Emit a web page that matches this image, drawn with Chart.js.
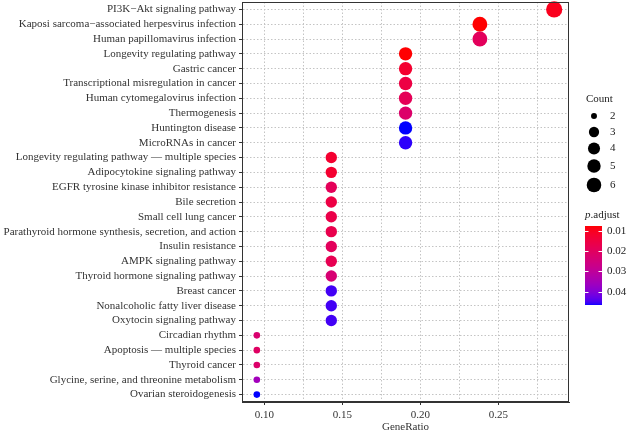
<!DOCTYPE html>
<html>
<head>
<meta charset="utf-8">
<script src="https://cdn.jsdelivr.net/npm/chart.js@4/dist/chart.umd.min.js"></script>
<style>
  html, body { margin: 0; padding: 0; background: #fff; }
  #wrap { width: 627px; height: 431px; }
</style>
</head>
<body>
<div id="wrap"><canvas id="c" width="627" height="431"></canvas></div>
<script>
// ---------------- data ----------------
const pathways = [
  "PI3K\u2212Akt signaling pathway",
  "Kaposi sarcoma\u2212associated herpesvirus infection",
  "Human papillomavirus infection",
  "Longevity regulating pathway",
  "Gastric cancer",
  "Transcriptional misregulation in cancer",
  "Human cytomegalovirus infection",
  "Thermogenesis",
  "Huntington disease",
  "MicroRNAs in cancer",
  "Longevity regulating pathway \u2014 multiple species",
  "Adipocytokine signaling pathway",
  "EGFR tyrosine kinase inhibitor resistance",
  "Bile secretion",
  "Small cell lung cancer",
  "Parathyroid hormone synthesis, secretion, and action",
  "Insulin resistance",
  "AMPK signaling pathway",
  "Thyroid hormone signaling pathway",
  "Breast cancer",
  "Nonalcoholic fatty liver disease",
  "Oxytocin signaling pathway",
  "Circadian rhythm",
  "Apoptosis \u2014 multiple species",
  "Thyroid cancer",
  "Glycine, serine, and threonine metabolism",
  "Ovarian steroidogenesis"
];
const geneRatio = [
  0.2857, 0.2381, 0.2381, 0.1905, 0.1905, 0.1905, 0.1905, 0.1905, 0.1905, 0.1905,
  0.1429, 0.1429, 0.1429, 0.1429, 0.1429, 0.1429, 0.1429, 0.1429, 0.1429, 0.1429, 0.1429, 0.1429,
  0.0952, 0.0952, 0.0952, 0.0952, 0.0952
];
const counts = [
  6, 5, 5, 4, 4, 4, 4, 4, 4, 4,
  3, 3, 3, 3, 3, 3, 3, 3, 3, 3, 3, 3,
  2, 2, 2, 2, 2
];
const pAdjust = [
  0.0100, 0.0077, 0.0193, 0.0078, 0.0124, 0.0155, 0.0186, 0.0217, 0.0465, 0.0458,
  0.0124, 0.0124, 0.0190, 0.0155, 0.0163, 0.0170, 0.0193, 0.0178, 0.0232, 0.0450, 0.0450, 0.0450,
  0.0225, 0.0205, 0.0217, 0.0356, 0.0465
];
const xTickValues = [0.10, 0.125, 0.15, 0.175, 0.20, 0.225, 0.25, 0.275];
const xTickLabels = ["0.10", "", "0.15", "", "0.20", "", "0.25", ""];
const countLegend = [2, 3, 4, 5, 6];
const pLegendTicks = [0.01, 0.02, 0.03, 0.04];
const pRange = [0.0077, 0.0465];
const countRange = [2, 6];
const xRange = [0.0857, 0.2952];

// ---------------- styling helpers ----------------
const FONT = "'Liberation Serif', 'Times New Roman', serif";
const TXT = '#333333';

function toLin(c){ c/=255; return c<=0.04045 ? c/12.92 : Math.pow((c+0.055)/1.055, 2.4); }
function fromLin(c){ c = c<=0.0031308 ? 12.92*c : 1.055*Math.pow(c,1/2.4)-0.055; return Math.max(0, Math.min(255, Math.round(c*255))); }
const WX=0.95047, WY=1.0, WZ=1.08883;
function rgb2lab(r,g,b){
  r=toLin(r); g=toLin(g); b=toLin(b);
  let x=(r*0.4124564+g*0.3575761+b*0.1804375)/WX;
  let y=(r*0.2126729+g*0.7151522+b*0.0721750)/WY;
  let z=(r*0.0193339+g*0.1191920+b*0.9503041)/WZ;
  const f=t=> t>0.008856 ? Math.cbrt(t) : (7.787*t+16/116);
  const fx=f(x), fy=f(y), fz=f(z);
  return [116*fy-16, 500*(fx-fy), 200*(fy-fz)];
}
function lab2rgb(L,a,b){
  const fy=(L+16)/116, fx=fy+a/500, fz=fy-b/200;
  const fi=t=> t*t*t>0.008856 ? t*t*t : (t-16/116)/7.787;
  const x=fi(fx)*WX, y=fi(fy)*WY, z=fi(fz)*WZ;
  const r= 3.2404542*x-1.5371385*y-0.4985314*z;
  const g=-0.9692660*x+1.8760108*y+0.0415560*z;
  const bb=0.0556434*x-0.2040259*y+1.0572252*z;
  return [fromLin(r), fromLin(g), fromLin(bb)];
}
const LAB_LOW = rgb2lab(255,0,0), LAB_HIGH = rgb2lab(0,0,255);
function colorFor(p){
  let t=(p-pRange[0])/(pRange[1]-pRange[0]); t=Math.max(0,Math.min(1,t));
  const L=LAB_LOW[0]+(LAB_HIGH[0]-LAB_LOW[0])*t;
  const A=LAB_LOW[1]+(LAB_HIGH[1]-LAB_LOW[1])*t;
  const B=LAB_LOW[2]+(LAB_HIGH[2]-LAB_LOW[2])*t;
  const c=lab2rgb(L,A,B);
  return 'rgb('+c[0]+','+c[1]+','+c[2]+')';
}
// area-style size scale: radius in px
function rad(c){
  const t=(c-countRange[0])/(countRange[1]-countRange[0]);
  return 3.3 + 4.8*Math.sqrt(Math.max(0,t));
}

// ---------------- dataset ----------------
const points = pathways.map((name,i)=>({x: geneRatio[i], y: name}));
const bg = pAdjust.map(colorFor);
const radii = counts.map(c=>rad(c));

// ---------------- plugin: border + legends ----------------
const extras = {
  id: 'extras',
  afterDatasetsDraw(chart){
    const ctx=chart.ctx, a=chart.chartArea;
    ctx.save();
    ctx.strokeStyle='#333'; ctx.lineWidth=1;
    ctx.strokeRect(Math.round(a.left)+0.5, Math.round(a.top)+0.5, Math.round(a.right-a.left)-1, Math.round(a.bottom-a.top)-1);
    ctx.restore();
  },
  afterDraw(chart){
    const ctx=chart.ctx;
    ctx.save();
    ctx.fillStyle='#222';
    ctx.textBaseline='middle';
    // Count legend
    ctx.font='11px '+FONT;
    ctx.textAlign='left';
    ctx.fillText('Count', 586, 99);
    const ys=[116, 132, 148.5, 166, 185];
    countLegend.forEach((c,i)=>{
      ctx.beginPath(); ctx.fillStyle='#000';
      ctx.arc(594, ys[i], rad(c)*0.9, 0, Math.PI*2); ctx.fill();
      ctx.fillStyle='#222';
      ctx.fillText(String(c), 610, ys[i]);
    });
    // p.adjust legend
    ctx.font='italic 11px '+FONT;
    ctx.fillText('p', 585, 215);
    const pw=ctx.measureText('p').width;
    ctx.font='11px '+FONT;
    ctx.fillText('.adjust', 585+pw, 215);
    const bx=585, bw=17, top=226, bot=305;
    for(let y=top; y<bot; y++){
      const p=pRange[0]+(pRange[1]-pRange[0])*((y+0.5-top)/(bot-top));
      ctx.fillStyle=colorFor(p);
      ctx.fillRect(bx, y, bw, 1);
    }
    pLegendTicks.forEach(v=>{
      const y=top+(v-pRange[0])/(pRange[1]-pRange[0])*(bot-top);
      ctx.strokeStyle='#fff'; ctx.lineWidth=1;
      ctx.beginPath();
      ctx.moveTo(bx, Math.round(y)+0.5); ctx.lineTo(bx+3.5, Math.round(y)+0.5);
      ctx.moveTo(bx+bw-3.5, Math.round(y)+0.5); ctx.lineTo(bx+bw, Math.round(y)+0.5);
      ctx.stroke();
      ctx.fillStyle='#222';
      ctx.fillText(v.toFixed(2), 607, y);
    });
    ctx.restore();
  }
};

new Chart(document.getElementById('c'), {
  type: 'scatter',
  data: {
    datasets: [{
      data: points,
      backgroundColor: bg,
      borderWidth: 0,
      pointRadius: radii,
      pointHoverRadius: radii
    }]
  },
  options: {
    responsive: false,
    animation: false,
    devicePixelRatio: 1,
    layout: { autoPadding: false, padding: { top: 2, right: 58, left: 0, bottom: 0 } },
    plugins: { legend: { display: false }, tooltip: { enabled: false } },
    scales: {
      x: {
        type: 'linear',
        min: xRange[0], max: xRange[1],
        afterBuildTicks: s => { s.ticks = xTickValues.map(v => ({ value: v })); },
        afterFit: s => { s.height = 29; s.paddingLeft = 0; s.paddingRight = 0; },
        ticks: {
          autoSkip: false, maxRotation: 0, padding: 4,
          font: { family: FONT, size: 11 }, color: TXT,
          callback: (v, i) => xTickLabels[i]
        },
        grid: {
          color: '#c4c4c4', lineWidth: 1, tickLength: 3,
          tickColor: ctx => (xTickLabels[ctx.index] ? '#333' : 'rgba(0,0,0,0)')
        },
        border: { display: true, color: '#333', dash: [1.5, 2] },
        title: {
          display: true, text: 'GeneRatio', color: TXT,
          font: { family: FONT, size: 11 }, padding: { top: 0, bottom: -3 }
        }
      },
      y: {
        type: 'category',
        labels: pathways,
        offset: true,
        afterFit: s => { s.width = 242; s.paddingTop = 0; s.paddingBottom = 0; },
        ticks: { autoSkip: false, padding: 3, font: { family: FONT, size: 11, lineHeight: 0.1 }, color: TXT },
        grid: { color: '#c4c4c4', lineWidth: 1, tickLength: 3, tickColor: '#333', offset: false },
        border: { display: true, color: '#333', dash: [1.5, 2] }
      }
    }
  },
  plugins: [extras]
});
</script>
</body>
</html>
